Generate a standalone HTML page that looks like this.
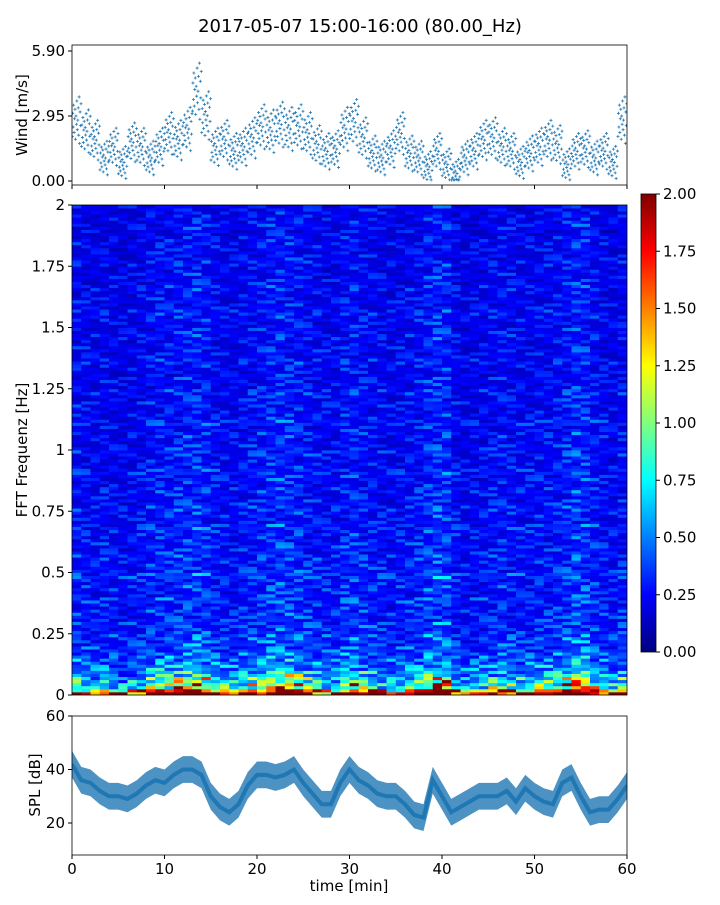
<!DOCTYPE html>
<html><head><meta charset="utf-8">
<style>
body{margin:0;background:#fff;font-family:"Liberation Sans","DejaVu Sans",sans-serif;}
svg text{font-family:"DejaVu Sans","Liberation Sans",sans-serif;fill:#000;}
</style></head>
<body>
<svg id="fig" width="720" height="900" viewBox="0 0 720 900" xmlns="http://www.w3.org/2000/svg">
<text x="360" y="32" font-size="18" text-anchor="middle">2017-05-07 15:00-16:00 (80.00_Hz)</text>
<defs>
<linearGradient id="jet" x1="0" y1="1" x2="0" y2="0">
<stop offset="0" stop-color="#00007f"/><stop offset="0.125" stop-color="#0000ff"/><stop offset="0.375" stop-color="#00ffff"/><stop offset="0.625" stop-color="#ffff00"/><stop offset="0.875" stop-color="#ff0000"/><stop offset="1" stop-color="#7f0000"/>
</linearGradient>
<clipPath id="c1"><rect x="72" y="45" width="555" height="140"/></clipPath>
<clipPath id="c2"><rect x="72" y="205" width="555" height="490"/></clipPath>
<clipPath id="c3"><rect x="72" y="716" width="555" height="139"/></clipPath>
</defs>
<g id="wind"></g>
<g id="spec"></g>
<g id="cbar"></g>
<g id="spl"></g>
</svg>
<script>
const windMinutes=[2.7,2.2,1.8,1.0,1.5,0.8,1.7,1.5,1.0,1.5,2.1,1.8,2.3,4.0,2.9,1.5,1.8,1.3,1.5,1.9,2.4,2.2,2.5,2.3,2.4,2.1,1.6,1.3,1.4,2.3,2.6,1.9,1.2,1.0,1.4,2.1,1.2,1.0,0.6,1.3,0.7,0.3,1.0,1.3,1.8,1.9,1.5,1.3,0.8,1.2,1.5,1.8,1.6,0.7,1.3,1.4,1.0,1.3,0.8,2.7];
const splMinutes=[42,36,35,32,30,30,29,31,34,36,35,38,40,40,38,30,26,24,27,34,38,38,37,38,40,35,31,27,27,35,40,36,34,31,30,30,27,23,22,36,30,24,26,28,30,30,30,32,28,33,30,28,27,35,37,30,24,25,25,29,34];
const freqLevels=[1.5,0.85,0.7,0.55,0.48,0.44,0.4,0.36,0.34,0.36,0.3,0.33,0.29,0.31,0.28,0.33,0.27,0.3,0.28,0.34,0.29,0.28,0.3,0.27,0.29,0.26,0.28,0.3,0.25,0.27,0.29,0.26,0.25,0.28,0.24,0.27,0.29,0.25,0.24,0.28,0.26,0.23,0.27,0.24,0.29,0.25,0.23,0.26,0.24,0.28,0.23,0.25,0.22,0.24,0.27,0.23,0.25,0.22,0.26,0.24,0.23,0.25,0.27,0.23,0.24,0.22,0.26,0.23,0.24,0.21,0.25,0.23,0.22,0.24,0.23,0.21,0.24,0.23,0.22,0.23];
const colGain=[1.0,0.95,0.9,0.95,0.9,0.85,0.9,0.95,1.05,1.1,1.1,1.15,1.2,1.25,1.15,1.0,0.95,0.9,1.0,1.05,1.1,1.2,1.25,1.2,1.15,1.05,1.0,0.95,0.95,1.1,1.15,1.05,1.0,0.95,0.9,0.95,1.0,1.05,1.2,1.3,1.25,0.95,0.85,0.9,0.95,1.0,1.05,1.0,0.95,0.95,1.0,1.0,1.05,1.15,1.3,1.25,1.05,0.95,0.9,1.0];
const timeTicks=[0,10,20,30,40,50,60];
const windTicks=[0,2.95,5.9];
const freqTicks=[0,0.25,0.5,0.75,1,1.25,1.5,1.75,2];
const cbarTicks=[0,0.25,0.5,0.75,1,1.25,1.5,1.75,2];
const splTicks=[20,40,60];
const texture=[1.0,0.65,1.45,0.85,1.15,0.55,1.7,0.9,1.1,0.7,1.3,0.8,1.05,0.6,1.55,0.95,0.75];

const NS="http://www.w3.org/2000/svg";
function mk(tag,attrs,parent){const e=document.createElementNS(NS,tag);for(const k in attrs)e.setAttribute(k,attrs[k]);parent.appendChild(e);return e;}
const X0=72,X1=627;
const xT=t=>X0+(X1-X0)*t/60;
const yW=v=>181-(181-51)*v/5.9;
const yF=f=>695-490*f/2;
const yC=v=>652-458*v/2;
const yS=v=>716+(60-v)*(107/40);
function jet(v){let t=Math.max(0,Math.min(1,v/2));
 const r=Math.max(0,Math.min(1,1.5-Math.abs(4*t-3))),g=Math.max(0,Math.min(1,1.5-Math.abs(4*t-2))),b=Math.max(0,Math.min(1,1.5-Math.abs(4*t-1)));
 return `rgb(${Math.round(r*255)},${Math.round(g*255)},${Math.round(b*255)})`;}
function fmt(v,d){return v.toFixed(d);}

// Wind panel
const W=document.getElementById('wind');
const wg=mk('g',{'clip-path':'url(#c1)'},W);
const jit=[-0.55,0.3,-0.2,0.6,-0.4,0.1,0.45,-0.65,0.2,-0.1,0.75,-0.3,0.05,0.5,-0.5,0.9,-0.8,0.35,-0.15,0.65];
windMinutes.forEach((v,i)=>{jit.forEach((o,k)=>{const t=i+(k+0.5)/jit.length;const val=Math.max(0.05,v+o*(0.7+v*0.2));
 const x=xT(t),y=yW(val);
 const p=mk('path',{d:`M${x-1.5},${y}h3M${x},${y-1.5}v3`,stroke:'#1f77b4','stroke-width':'0.8'},wg);
 
 });});
let a=mk('rect',{x:72,y:45,width:555,height:140,fill:'none',stroke:'#000','stroke-width':0.8},W);

windTicks.forEach(v=>{const y=yW(v);mk('line',{x1:68,x2:72,y1:y,y2:y,stroke:'#000'},W);
 const t=mk('text',{x:65,y:y+5,'font-size':15,'text-anchor':'end'},W);t.textContent=fmt(v,2);
 });
timeTicks.forEach(v=>mk('line',{x1:xT(v),x2:xT(v),y1:185,y2:189,stroke:'#000'},W));
let wl=mk('text',{x:27,y:115,'font-size':15,'text-anchor':'middle',transform:'rotate(-90 27 115)'},W);wl.textContent='Wind [m/s]';


// Spectrogram
const S=document.getElementById('spec');
const sg=mk('g',{'clip-path':'url(#c2)'},S);
const nR=freqLevels.length,nC=colGain.length,sub=2,rh=490/nR/sub,cw=555/nC;
freqLevels.forEach((fv,r)=>{colGain.forEach((g,c)=>{for(let s=0;s<sub;s++){
 const tx=texture[(r*7+s*5+Math.floor(c/2)*3+(c%2)*(r%4))%texture.length];
 const gg=r<4?Math.pow(g,2.5):g;
 const boost=(r===0&&s===0)?1.4:1;
 const v=fv*gg*tx*boost;
 const cell=mk('rect',{x:xT(c*60/nC),y:695-(r*sub+s+1)*rh,width:cw+0.4,height:rh+0.4,fill:jet(v)},sg);
 
 }});});
a=mk('rect',{x:72,y:205,width:555,height:490,fill:'none',stroke:'#000','stroke-width':0.8},S);

freqTicks.forEach(v=>{const y=yF(v);mk('line',{x1:68,x2:72,y1:y,y2:y,stroke:'#000'},S);
 const t=mk('text',{x:65,y:y+5,'font-size':15,'text-anchor':'end'},S);t.textContent=String(v);
 });
let sl=mk('text',{x:27,y:450,'font-size':15,'text-anchor':'middle',transform:'rotate(-90 27 450)'},S);sl.textContent='FFT Frequenz [Hz]';


// Colorbar
const C=document.getElementById('cbar');
a=mk('rect',{x:641,y:194,width:15,height:458,fill:'url(#jet)',stroke:'#000','stroke-width':0.8},C);

cbarTicks.forEach(v=>{const y=yC(v);mk('line',{x1:656,x2:660,y1:y,y2:y,stroke:'#000'},C);
 const t=mk('text',{x:663,y:y+5,'font-size':15},C);t.textContent=fmt(v,2);
 });

// SPL
const P=document.getElementById('spl');
const pg=mk('g',{'clip-path':'url(#c3)'},P);
let up='',lo='';
splMinutes.forEach((v,i)=>{up+=(i?'L':'M')+xT(i)+','+yS(v+5);});
for(let i=splMinutes.length-1;i>=0;i--)lo+='L'+xT(i)+','+yS(splMinutes[i]-5);
let band=mk('path',{d:up+lo+'Z',fill:'#1f77b4','fill-opacity':0.8},pg);

let ln='';splMinutes.forEach((v,i)=>{ln+=(i?'L':'M')+xT(i)+','+yS(v);});
let line=mk('path',{d:ln,fill:'none',stroke:'#1f77b4','stroke-width':4},pg);

a=mk('rect',{x:72,y:716,width:555,height:139,fill:'none',stroke:'#000','stroke-width':0.8},P);

splTicks.forEach(v=>{const y=yS(v);mk('line',{x1:68,x2:72,y1:y,y2:y,stroke:'#000'},P);
 const t=mk('text',{x:65,y:y+5,'font-size':15,'text-anchor':'end'},P);t.textContent=String(v);
 });
timeTicks.forEach(v=>{const x=xT(v);mk('line',{x1:x,x2:x,y1:855,y2:859,stroke:'#000'},P);
 const t=mk('text',{x:x,y:874,'font-size':15,'text-anchor':'middle'},P);t.textContent=String(v);
 });
let pl=mk('text',{x:40,y:785,'font-size':15,'text-anchor':'middle',transform:'rotate(-90 40 785)'},P);pl.textContent='SPL [dB]';

let xl=mk('text',{x:349,y:891,'font-size':15,'text-anchor':'middle'},P);xl.textContent='time [min]';

</script>
</body></html>
